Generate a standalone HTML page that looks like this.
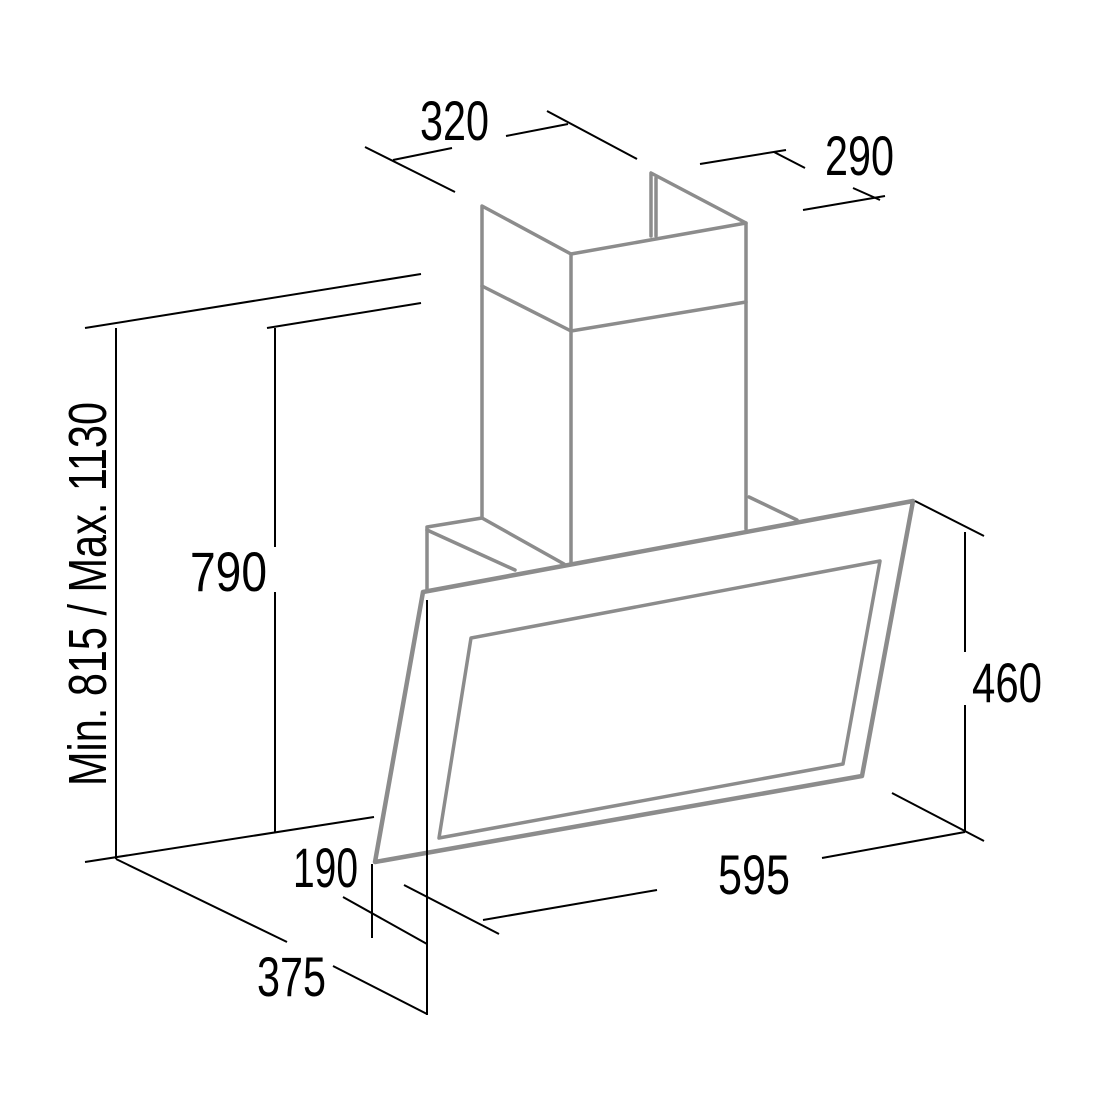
<!DOCTYPE html>
<html><head><meta charset="utf-8"><style>html,body{margin:0;padding:0;background:#fff}svg{display:block}</style></head>
<body>
<svg width="1100" height="1100" viewBox="0 0 1100 1100" xmlns="http://www.w3.org/2000/svg">
<g stroke="#8c8c8c" stroke-width="3.5" fill="none" stroke-linecap="round" stroke-linejoin="round">
<polyline points="482,518 482,206 571,254 746,223 651,173 651,236"/>
<line x1="656" y1="178" x2="656" y2="236"/>
<line x1="571" y1="254" x2="571" y2="564"/>
<line x1="746" y1="223" x2="746" y2="529"/>
<polyline points="482,286 571,331 746,302"/>
<polyline points="427,591 427,527 482,518 564,564"/>
<line x1="427" y1="530" x2="515" y2="570"/>
<line x1="749" y1="497" x2="797" y2="520"/>
<polygon points="423,592 913,501 862,776 375,862" stroke-width="4.5"/>
<polygon points="471,638 880,561 843,764 439,838"/>
</g>
<g stroke="#000" stroke-width="2" fill="none">
<line x1="365" y1="147" x2="455" y2="192"/>
<line x1="393" y1="160" x2="452" y2="148"/>
<line x1="506" y1="136" x2="568" y2="124"/>
<line x1="547" y1="111" x2="637" y2="159"/>
<line x1="700" y1="164" x2="786" y2="150"/>
<line x1="774" y1="152" x2="805" y2="168"/>
<line x1="803" y1="210" x2="885" y2="196"/>
<line x1="853" y1="188" x2="880" y2="200"/>
<line x1="85" y1="328" x2="421" y2="274"/>
<line x1="267" y1="328" x2="421" y2="303"/>
<line x1="116" y1="328" x2="116" y2="859"/>
<line x1="275" y1="328" x2="275" y2="547"/>
<line x1="275" y1="592" x2="275" y2="832"/>
<line x1="85" y1="862" x2="374" y2="817"/>
<line x1="116" y1="859" x2="287" y2="942"/>
<line x1="333" y1="966" x2="427" y2="1014"/>
<line x1="427" y1="600" x2="427" y2="1015"/>
<line x1="372" y1="864" x2="372" y2="938"/>
<line x1="343" y1="897" x2="427" y2="944"/>
<line x1="404" y1="885" x2="499" y2="934"/>
<line x1="483" y1="920" x2="657" y2="890"/>
<line x1="822" y1="858" x2="965" y2="832"/>
<line x1="892" y1="793" x2="984" y2="841"/>
<line x1="965" y1="532" x2="965" y2="652"/>
<line x1="965" y1="705" x2="965" y2="832"/>
<line x1="915" y1="501" x2="984" y2="536"/>
</g>
<g font-family="Liberation Sans, sans-serif" font-size="56" fill="#000">
<text x="420" y="140" textLength="69" lengthAdjust="spacingAndGlyphs">320</text>
<text x="825" y="175" textLength="69" lengthAdjust="spacingAndGlyphs">290</text>
<text x="190" y="591" textLength="77" lengthAdjust="spacingAndGlyphs">790</text>
<text x="972" y="702" textLength="70" lengthAdjust="spacingAndGlyphs">460</text>
<text x="718" y="894" textLength="72" lengthAdjust="spacingAndGlyphs">595</text>
<text x="293" y="887" textLength="65" lengthAdjust="spacingAndGlyphs">190</text>
<text x="257" y="996" textLength="69" lengthAdjust="spacingAndGlyphs">375</text>
<text transform="translate(106,786) rotate(-90)" x="0" y="0" font-size="54" textLength="384" lengthAdjust="spacingAndGlyphs">Min. 815 / Max. 1130</text>
</g>
</svg>
</body></html>
